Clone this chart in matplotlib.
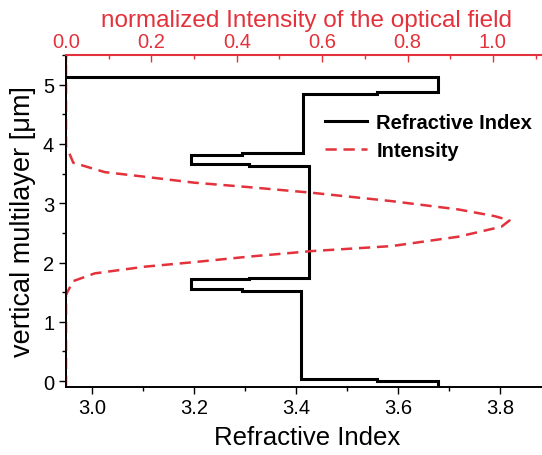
import matplotlib
matplotlib.use('Agg')
import matplotlib.pyplot as plt
from matplotlib.ticker import MultipleLocator

plt.rcParams['font.family'] = ['Liberation Sans', 'DejaVu Sans']

RED = '#e3323b'

# refractive index step profile (vertices), y in um
n_profile = [2.95, 3.678, 3.678, 3.558, 3.558, 3.413, 3.413, 3.295, 3.295, 3.194,
             3.194, 3.308, 3.308, 3.426, 3.426, 3.308, 3.308, 3.194, 3.194, 3.295,
             3.295, 3.410, 3.410, 3.558, 3.558, 3.678, 3.678]
y_profile = [5.133, 5.133, 4.88, 4.88, 4.85, 4.85, 3.84, 3.84, 3.82, 3.82,
             3.654, 3.654, 3.632, 3.632, 1.744, 1.744, 1.715, 1.715, 1.558, 1.558,
             1.518, 1.518, 0.04, 0.04, 0.003, 0.003, -0.1]

# normalized optical field intensity
intensity = [0.0, 0.0, 0.004, 0.017, 0.067, 0.184, 0.301, 0.427, 0.575, 0.763,
             0.919, 1.020, 1.039, 1.004, 0.919, 0.763, 0.575, 0.427, 0.301,
             0.184, 0.091, 0.017, 0.004, 0.0, 0.0]
y_int = [-0.1, 1.45, 1.513, 1.686, 1.816, 1.929, 2.007, 2.098, 2.192, 2.277,
         2.435, 2.604, 2.71, 2.782, 2.895, 3.035, 3.177, 3.272, 3.346,
         3.447, 3.524, 3.683, 3.907, 3.95, 5.5]

fig = plt.figure(figsize=(5.42, 4.56), dpi=100)
ax = fig.add_axes([66/542, 68/456, (548-66)/542, (388-56)/456])
ax2 = ax.twiny()

l1, = ax.plot(n_profile, y_profile, color='black', lw=2.2, label='Refractive Index',
              solid_joinstyle='miter')
l2, = ax2.plot(intensity, y_int, color=RED, lw=1.8, ls=(0, (4.5, 2.7)), label='Intensity')

ax.set_xlim(2.949, 3.894)
ax2.set_xlim(0, 1.129)
ax.set_ylim(-0.1, 5.5)

ax.xaxis.set_major_locator(MultipleLocator(0.2))
ax.xaxis.set_minor_locator(MultipleLocator(0.1))
ax.yaxis.set_major_locator(MultipleLocator(1))
ax.yaxis.set_minor_locator(MultipleLocator(0.5))
ax2.xaxis.set_major_locator(MultipleLocator(0.2))
ax2.xaxis.set_minor_locator(MultipleLocator(0.1))

ax.tick_params(which='both', direction='out', labelsize=14.5, width=1)
ax.tick_params(which='major', length=5)
ax.tick_params(which='minor', length=3)
ax.tick_params(axis='x', pad=3)
ax2.tick_params(which='both', direction='in', colors=RED, labelsize=14.5, width=1, pad=3)
ax2.tick_params(which='major', length=5)
ax2.tick_params(which='minor', length=3)

for a in (ax, ax2):
    a.spines['right'].set_visible(False)
    a.spines['left'].set_linewidth(1.2)
    a.spines['bottom'].set_linewidth(1.2)
ax2.spines['top'].set_color(RED)
ax2.spines['top'].set_linewidth(1.5)
ax.spines['top'].set_visible(False)

ax.set_xlabel('Refractive Index', fontsize=18.5, labelpad=6)
ax.set_ylabel('vertical multilayer [μm]', fontsize=19.5, labelpad=5)
ax2.set_xlabel('normalized Intensity of the optical field', fontsize=17.5, color=RED, labelpad=4)

leg = ax2.legend([l1, l2], ['Refractive Index', 'Intensity'], loc='upper left',
                 bbox_to_anchor=(325/542, 1 - 114/456), bbox_transform=fig.transFigure,
                 frameon=False, prop={'weight': 'bold', 'size': 14.5}, handlelength=2.1,
                 handletextpad=0.45, labelspacing=0.45, borderpad=0, borderaxespad=0)

fig.savefig('out.png', dpi=100)
